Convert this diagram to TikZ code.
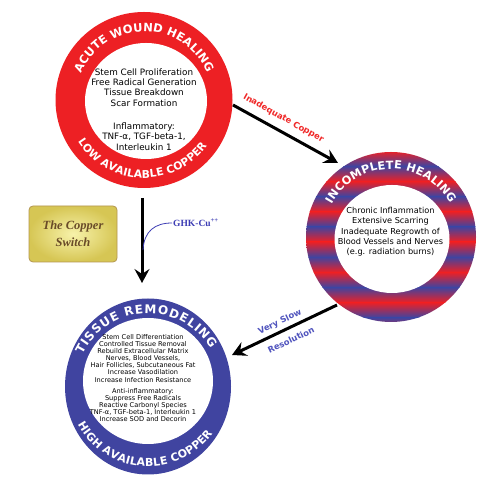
\documentclass[tikz,border=0pt]{standalone}
\usepackage{fontspec}
\setmainfont{DejaVu Sans}
\newfontfamily\serifb{Liberation Serif}
\usetikzlibrary{arrows.meta,decorations.text,shapes.geometric}
\definecolor{myred}{RGB}{237,32,36}
\definecolor{myblue}{RGB}{64,68,160}
\definecolor{lblblue}{RGB}{80,84,190}
\definecolor{ghkblue}{RGB}{60,60,180}
\definecolor{txtred}{RGB}{240,40,40}
\definecolor{goldin}{RGB}{247,242,170}
\definecolor{goldout}{RGB}{214,198,84}
\definecolor{goldedge}{RGB}{180,150,80}
\definecolor{brownt}{RGB}{105,75,40}
\tikzset{
  ringtext/.style={decorate, decoration={text along path, text align=fit to path, text color=white, text={#1}}},
  bigarrow/.style={line width=3pt, -{Stealth[length=14pt,width=15pt,inset=5pt]}},
  bodytext/.style={align=center, text=black, inner sep=0pt},
  disc/.style={ellipse, inner sep=0pt},
}
\begin{document}
\begin{tikzpicture}[x=1pt,y=1pt]
\useasboundingbox[fill=white] (0,0) rectangle (495,489);

% ---- Acute wound healing ring
\node[disc, minimum width=177pt, minimum height=176pt, fill=myred] (A) at (144,389) {};
\node[disc, minimum width=122pt, minimum height=116pt, fill=white] (Ai) at (146,388) {};
\path[ringtext={|\fontsize{11.5}{12}\selectfont\bfseries|ACUTE WOUND HEALING}]
  (A.center) ++(157:68.5) arc[start angle=157,end angle=23,radius=68.5];
\path[ringtext={|\fontsize{10.8}{12}\selectfont\bfseries|LOW AVAILABLE COPPER}]
  (A.center) ++(212:78) arc[start angle=212,end angle=324,radius=78];
\node[bodytext, font=\fontsize{8.8}{10.3}\selectfont] (At) at (144,379.5)
  {Stem Cell Proliferation\\Free Radical Generation\\Tissue Breakdown\\Scar Formation\\[13pt]
   Inflammatory:\\TNF-α, TGF-beta-1,\\Interleukin 1};

% ---- Incomplete healing ring (striped)
\node[disc, minimum width=170pt, minimum height=170pt] (B) at (391,252) {};
\begin{scope}
  \clip (B.center) circle (85);
  \foreach \y in {338,307.7,...,150} {
    \shade[top color=myred,bottom color=myblue] (300,\y) rectangle (485,\y-15.15);
    \shade[top color=myblue,bottom color=myred] (300,\y-15.15) rectangle (485,\y-30.3);
  }
\end{scope}
\node[disc, minimum width=115pt, minimum height=108pt, fill=white] (Bi) at (392,250) {};
\path[ringtext={|\fontsize{11.3}{12}\selectfont\bfseries|INCOMPLETE HEALING}]
  (B.center) ++(151:68) arc[start angle=151,end angle=29.5,radius=68];
\node[bodytext, font=\fontsize{8.2}{10.3}\selectfont] (Bt) at (390.5,257)
  {Chronic Inflammation\\Extensive Scarring\\Inadequate Regrowth of\\Blood Vessels and Nerves\\(e.g. radiation burns)};

% ---- Tissue remodeling ring
\node[disc, minimum width=166pt, minimum height=176pt, fill=myblue] (C) at (148,102.5) {};
\node[disc, minimum width=130pt, minimum height=126pt, fill=white] (Ci) at (148,108) {};
\path[ringtext={|\fontsize{12}{12}\selectfont\bfseries|TISSUE REMODELING}]
  (C.center) ++(154:73) arc[start angle=154,end angle=31,radius=73];
\path[ringtext={|\fontsize{11}{12}\selectfont\bfseries|HIGH AVAILABLE COPPER}]
  (C.center) ++(208.5:80) arc[start angle=208.5,end angle=324,radius=80];
\node[bodytext, font=\fontsize{6.6}{7.15}\selectfont] (Ct) at (143,111)
  {Stem Cell Differentiation\\Controlled Tissue Removal\\Rebuild Extracellular Matrix\\Nerves, Blood Vessels,\\Hair Follicles, Subcutaneous Fat\\Increase Vasodilation\\Increase Infection Resistance\\[4pt]
   Anti-inflammatory:\\Suppress Free Radicals\\Reactive Carbonyl Species\\TNF-α, TGF-beta-1, Interleukin 1\\Increase SOD and Decorin};

% ---- Copper switch box
\node[draw=goldedge, line width=0.8pt, rounded corners=4pt, inner color=goldin, outer color=goldout,
      minimum width=88pt, minimum height=56pt, align=center, text=brownt,
      font=\serifb\bfseries\itshape\fontsize{12.5}{17}\selectfont] (S) at (73,255) {The Copper\\Switch};

% ---- Arrows
\coordinate (a1) at (142,291);
\coordinate (a2) at (142,206);
\draw[bigarrow] (a1) -- (a2);

\coordinate (i1) at (233,384);
\coordinate (i2) at (338,326);
\draw[bigarrow] (i1) -- (i2);
\node[text=txtred, font=\fontsize{8.4}{9}\selectfont\bfseries, rotate=-29] (IC) at (283.5,370.5) {Inadequate Copper};

\coordinate (v1) at (337,184);
\coordinate (v2) at (232,134);
\draw[bigarrow] (v1) -- (v2);
\node[text=lblblue, font=\fontsize{8.4}{9}\selectfont\bfseries, rotate=25.5] (VS) at (280,167) {Very Slow};
\node[text=lblblue, font=\fontsize{8.4}{9}\selectfont\bfseries, rotate=25.5] (RS) at (291,149) {Resolution};

% ---- GHK-Cu label
\node[anchor=west, text=ghkblue, inner sep=1pt, font=\serifb\bfseries\fontsize{9.5}{11}\selectfont] (G) at (172,266) {GHK-Cu\textsuperscript{++}};
\coordinate (g1) at (143,239);
\draw[ghkblue, line width=0.8pt] (g1) .. controls (144,258) and (155,266) .. (G.west);
\end{tikzpicture}
\end{document}
